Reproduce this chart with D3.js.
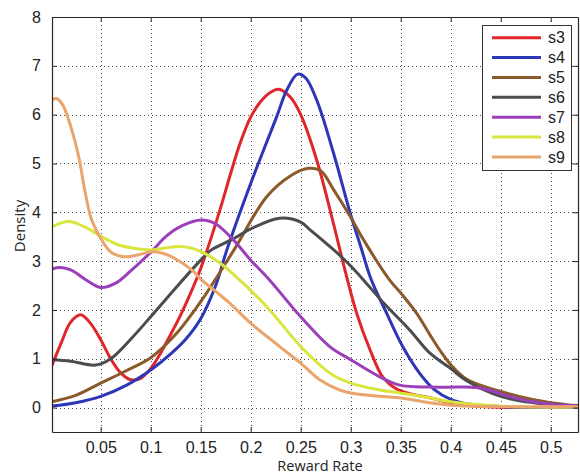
<!DOCTYPE html>
<html>
<head>
<meta charset="utf-8">
<script src="https://cdn.jsdelivr.net/npm/d3@7"></script>
<style>
  html, body { margin: 0; padding: 0; background: #ffffff; }
  svg { display: block; }
</style>
</head>
<body>
<svg id="chart" width="580" height="475"></svg>
<script>
// ---- data ----
const seriesNames = ["s3", "s4", "s5", "s6", "s7", "s8", "s9"];
const seriesColors = ["#e0262b", "#2c36b6", "#8a5a2b", "#4b4c50", "#9b3fbb", "#d8e63e", "#e9a56c"];

const xTicks = [0.05, 0.1, 0.15, 0.2, 0.25, 0.3, 0.35, 0.4, 0.45, 0.5];
const yTicks = [0, 1, 2, 3, 4, 5, 6, 7, 8];
const xLabel = "Reward Rate";
const yLabel = "Density";

const s3 = [[0.001,0.85],[0.01,1.3],[0.02,1.75],[0.03,1.9],[0.04,1.72],[0.05,1.39],[0.06,1.0],[0.07,0.71],[0.08,0.57],[0.09,0.6],
  [0.10,0.8],[0.11,1.12],[0.12,1.5],[0.13,1.9],[0.14,2.35],[0.15,2.85],[0.16,3.45],[0.17,4.1],[0.18,4.8],[0.19,5.45],[0.20,5.95],
  [0.21,6.27],[0.22,6.46],[0.228,6.52],[0.24,6.35],[0.25,6.0],[0.266,5.07],[0.283,3.75],[0.292,3.0],[0.306,1.93],[0.319,1.2],
  [0.332,0.63],[0.346,0.38],[0.36,0.28],[0.379,0.2],[0.40,0.1],[0.43,0.02],[0.53,0.01]];
const s4 = [[0.001,0.03],[0.025,0.1],[0.05,0.23],[0.075,0.45],[0.10,0.77],[0.12,1.1],[0.135,1.4],[0.15,1.82],[0.165,2.5],
  [0.176,3.22],[0.20,4.59],[0.226,5.96],[0.236,6.5],[0.247,6.83],[0.255,6.75],[0.266,6.3],[0.283,5.2],[0.30,3.95],[0.31,3.3],
  [0.32,2.65],[0.336,1.93],[0.352,1.25],[0.369,0.7],[0.383,0.38],[0.40,0.17],[0.416,0.08],[0.45,0.02],[0.53,0.0]];
const s5 = [[0.001,0.12],[0.025,0.25],[0.05,0.5],[0.075,0.75],[0.10,1.02],[0.125,1.5],[0.15,2.17],[0.183,3.22],[0.216,4.32],
  [0.24,4.75],[0.258,4.9],[0.27,4.85],[0.283,4.46],[0.30,3.9],[0.313,3.43],[0.339,2.61],[0.352,2.3],[0.366,1.93],[0.379,1.5],
  [0.39,1.15],[0.40,0.88],[0.416,0.58],[0.45,0.33],[0.483,0.16],[0.516,0.06],[0.53,0.04]];
const s6 = [[0.001,0.98],[0.02,0.95],[0.045,0.87],[0.06,1.0],[0.08,1.4],[0.10,1.86],[0.125,2.45],[0.15,3.02],[0.16,3.22],
  [0.182,3.45],[0.20,3.66],[0.229,3.88],[0.25,3.8],[0.26,3.63],[0.289,3.12],[0.30,2.9],[0.313,2.61],[0.333,2.14],[0.359,1.59],
  [0.379,1.12],[0.40,0.8],[0.416,0.55],[0.45,0.23],[0.483,0.1],[0.53,0.03]];
const s7 = [[0.001,2.84],[0.01,2.87],[0.02,2.82],[0.035,2.62],[0.05,2.46],[0.065,2.55],[0.08,2.8],[0.101,3.2],[0.115,3.5],
  [0.131,3.72],[0.151,3.84],[0.165,3.76],[0.182,3.45],[0.20,3.02],[0.219,2.61],[0.25,1.86],[0.279,1.25],[0.30,0.98],
  [0.329,0.63],[0.349,0.46],[0.379,0.42],[0.41,0.42],[0.425,0.41],[0.44,0.35],[0.46,0.22],[0.483,0.12],[0.50,0.07],[0.53,0.03]];
const s8 = [[0.001,3.7],[0.018,3.81],[0.034,3.7],[0.051,3.5],[0.068,3.33],[0.085,3.26],[0.101,3.23],[0.115,3.27],[0.128,3.3],
  [0.14,3.27],[0.151,3.19],[0.17,2.95],[0.189,2.61],[0.20,2.4],[0.219,2.0],[0.25,1.25],[0.279,0.71],[0.30,0.5],[0.329,0.36],
  [0.349,0.3],[0.379,0.2],[0.40,0.12],[0.45,0.03],[0.53,0.01]];
const s9 = [[0.001,6.3],[0.006,6.33],[0.012,6.2],[0.018,5.89],[0.028,5.14],[0.034,4.46],[0.041,3.84],[0.051,3.43],[0.061,3.17],
  [0.074,3.09],[0.088,3.13],[0.101,3.19],[0.112,3.16],[0.121,3.09],[0.141,2.82],[0.151,2.61],[0.165,2.38],[0.179,2.14],
  [0.20,1.73],[0.229,1.25],[0.25,0.91],[0.269,0.57],[0.289,0.36],[0.30,0.3],[0.329,0.23],[0.349,0.2],[0.379,0.1],[0.40,0.05],
  [0.45,0.02],[0.53,0.02]];
const seriesData = [s3, s4, s5, s6, s7, s8, s9];

// ---- layout ----
const svg = d3.select("#chart");
const L = 52, R = 578, T = 17, B = 432;

const x = d3.scaleLinear().domain([0.0013, 0.5273]).range([L, R]);
const y = d3.scaleLinear().domain([-0.5, 8]).range([B, T]);

svg.append("rect").attr("width", 580).attr("height", 475).attr("fill", "#ffffff");

// grid
const grid = svg.append("g").attr("stroke", "#4a4a4a").attr("stroke-width", 1)
  .attr("stroke-dasharray", "1,3").attr("fill", "none");
grid.selectAll("line.gx").data(xTicks).join("line")
  .attr("x1", d => Math.round(x(d)) + 0.5).attr("x2", d => Math.round(x(d)) + 0.5)
  .attr("y1", T).attr("y2", B);
grid.selectAll("line.gy").data(yTicks).join("line")
  .attr("y1", d => Math.round(y(d)) + 0.5).attr("y2", d => Math.round(y(d)) + 0.5)
  .attr("x1", L).attr("x2", R);

// curves
svg.append("clipPath").attr("id", "clip").append("rect")
  .attr("x", L).attr("y", T).attr("width", R - L).attr("height", B - T);
const line = d3.line().x(d => x(d[0])).y(d => y(d[1])).curve(d3.curveCatmullRom.alpha(0.5));
svg.append("g").attr("clip-path", "url(#clip)")
  .selectAll("path").data(seriesData).join("path")
  .attr("d", line).attr("fill", "none")
  .attr("stroke", (d, i) => seriesColors[i]).attr("stroke-width", 3)
  .attr("stroke-linejoin", "round").attr("stroke-linecap", "round");

// axes (MATLAB style box with inward ticks)
const fontTick = "'Liberation Sans', Arial, sans-serif";
const axB = svg.append("g").attr("transform", `translate(0,${B})`)
  .call(d3.axisBottom(x).tickValues(xTicks).tickSizeInner(-5).tickSizeOuter(0).tickPadding(10)
    .tickFormat(d3.format("")));
const axT = svg.append("g").attr("transform", `translate(0,${T})`)
  .call(d3.axisTop(x).tickValues(xTicks).tickSizeInner(-5).tickSizeOuter(0).tickFormat(""));
const axL = svg.append("g").attr("transform", `translate(${L},0)`)
  .call(d3.axisLeft(y).tickValues(yTicks).tickSizeInner(-5).tickSizeOuter(0).tickPadding(11));
const axR = svg.append("g").attr("transform", `translate(${R},0)`)
  .call(d3.axisRight(y).tickValues(yTicks).tickSizeInner(-5).tickSizeOuter(0).tickFormat(""));
[axB, axT, axL, axR].forEach(a => {
  a.select(".domain").attr("stroke", "#262626").attr("stroke-width", 1.2);
  a.selectAll(".tick line").attr("stroke", "#262626");
  a.selectAll("text").attr("font-family", fontTick).attr("font-size", 16).attr("fill", "#222");
});
axB.selectAll("text").attr("dy", "0.71em");

// axis labels
svg.append("text").attr("x", 320).attr("y", 471).attr("text-anchor", "middle")
  .attr("font-family", "'Open Sans', sans-serif").attr("font-size", 14.5).attr("fill", "#222").text(xLabel);
svg.append("text").attr("transform", "translate(25,226) rotate(-90)").attr("text-anchor", "middle")
  .attr("font-family", "'Open Sans', sans-serif").attr("font-size", 15).attr("fill", "#222").text(yLabel);

// legend
const lg = svg.append("g");
lg.append("rect").attr("x", 482.5).attr("y", 25.5).attr("width", 89).attr("height", 145)
  .attr("fill", "#ffffff").attr("stroke", "#333").attr("stroke-width", 1);
const ly = d3.scalePoint().domain(seriesNames).range([37.7, 157]);
const items = lg.selectAll("g.item").data(seriesNames).join("g")
  .attr("transform", d => `translate(0,${ly(d)})`);
items.append("line").attr("x1", 492).attr("x2", 541).attr("y1", 0).attr("y2", 0)
  .attr("stroke", (d, i) => seriesColors[i]).attr("stroke-width", 3);
items.append("text").attr("x", 548).attr("y", 0).attr("dy", "0.36em")
  .attr("font-family", fontTick).attr("font-size", 16).attr("fill", "#222").text(d => d);
</script>
</body>
</html>
